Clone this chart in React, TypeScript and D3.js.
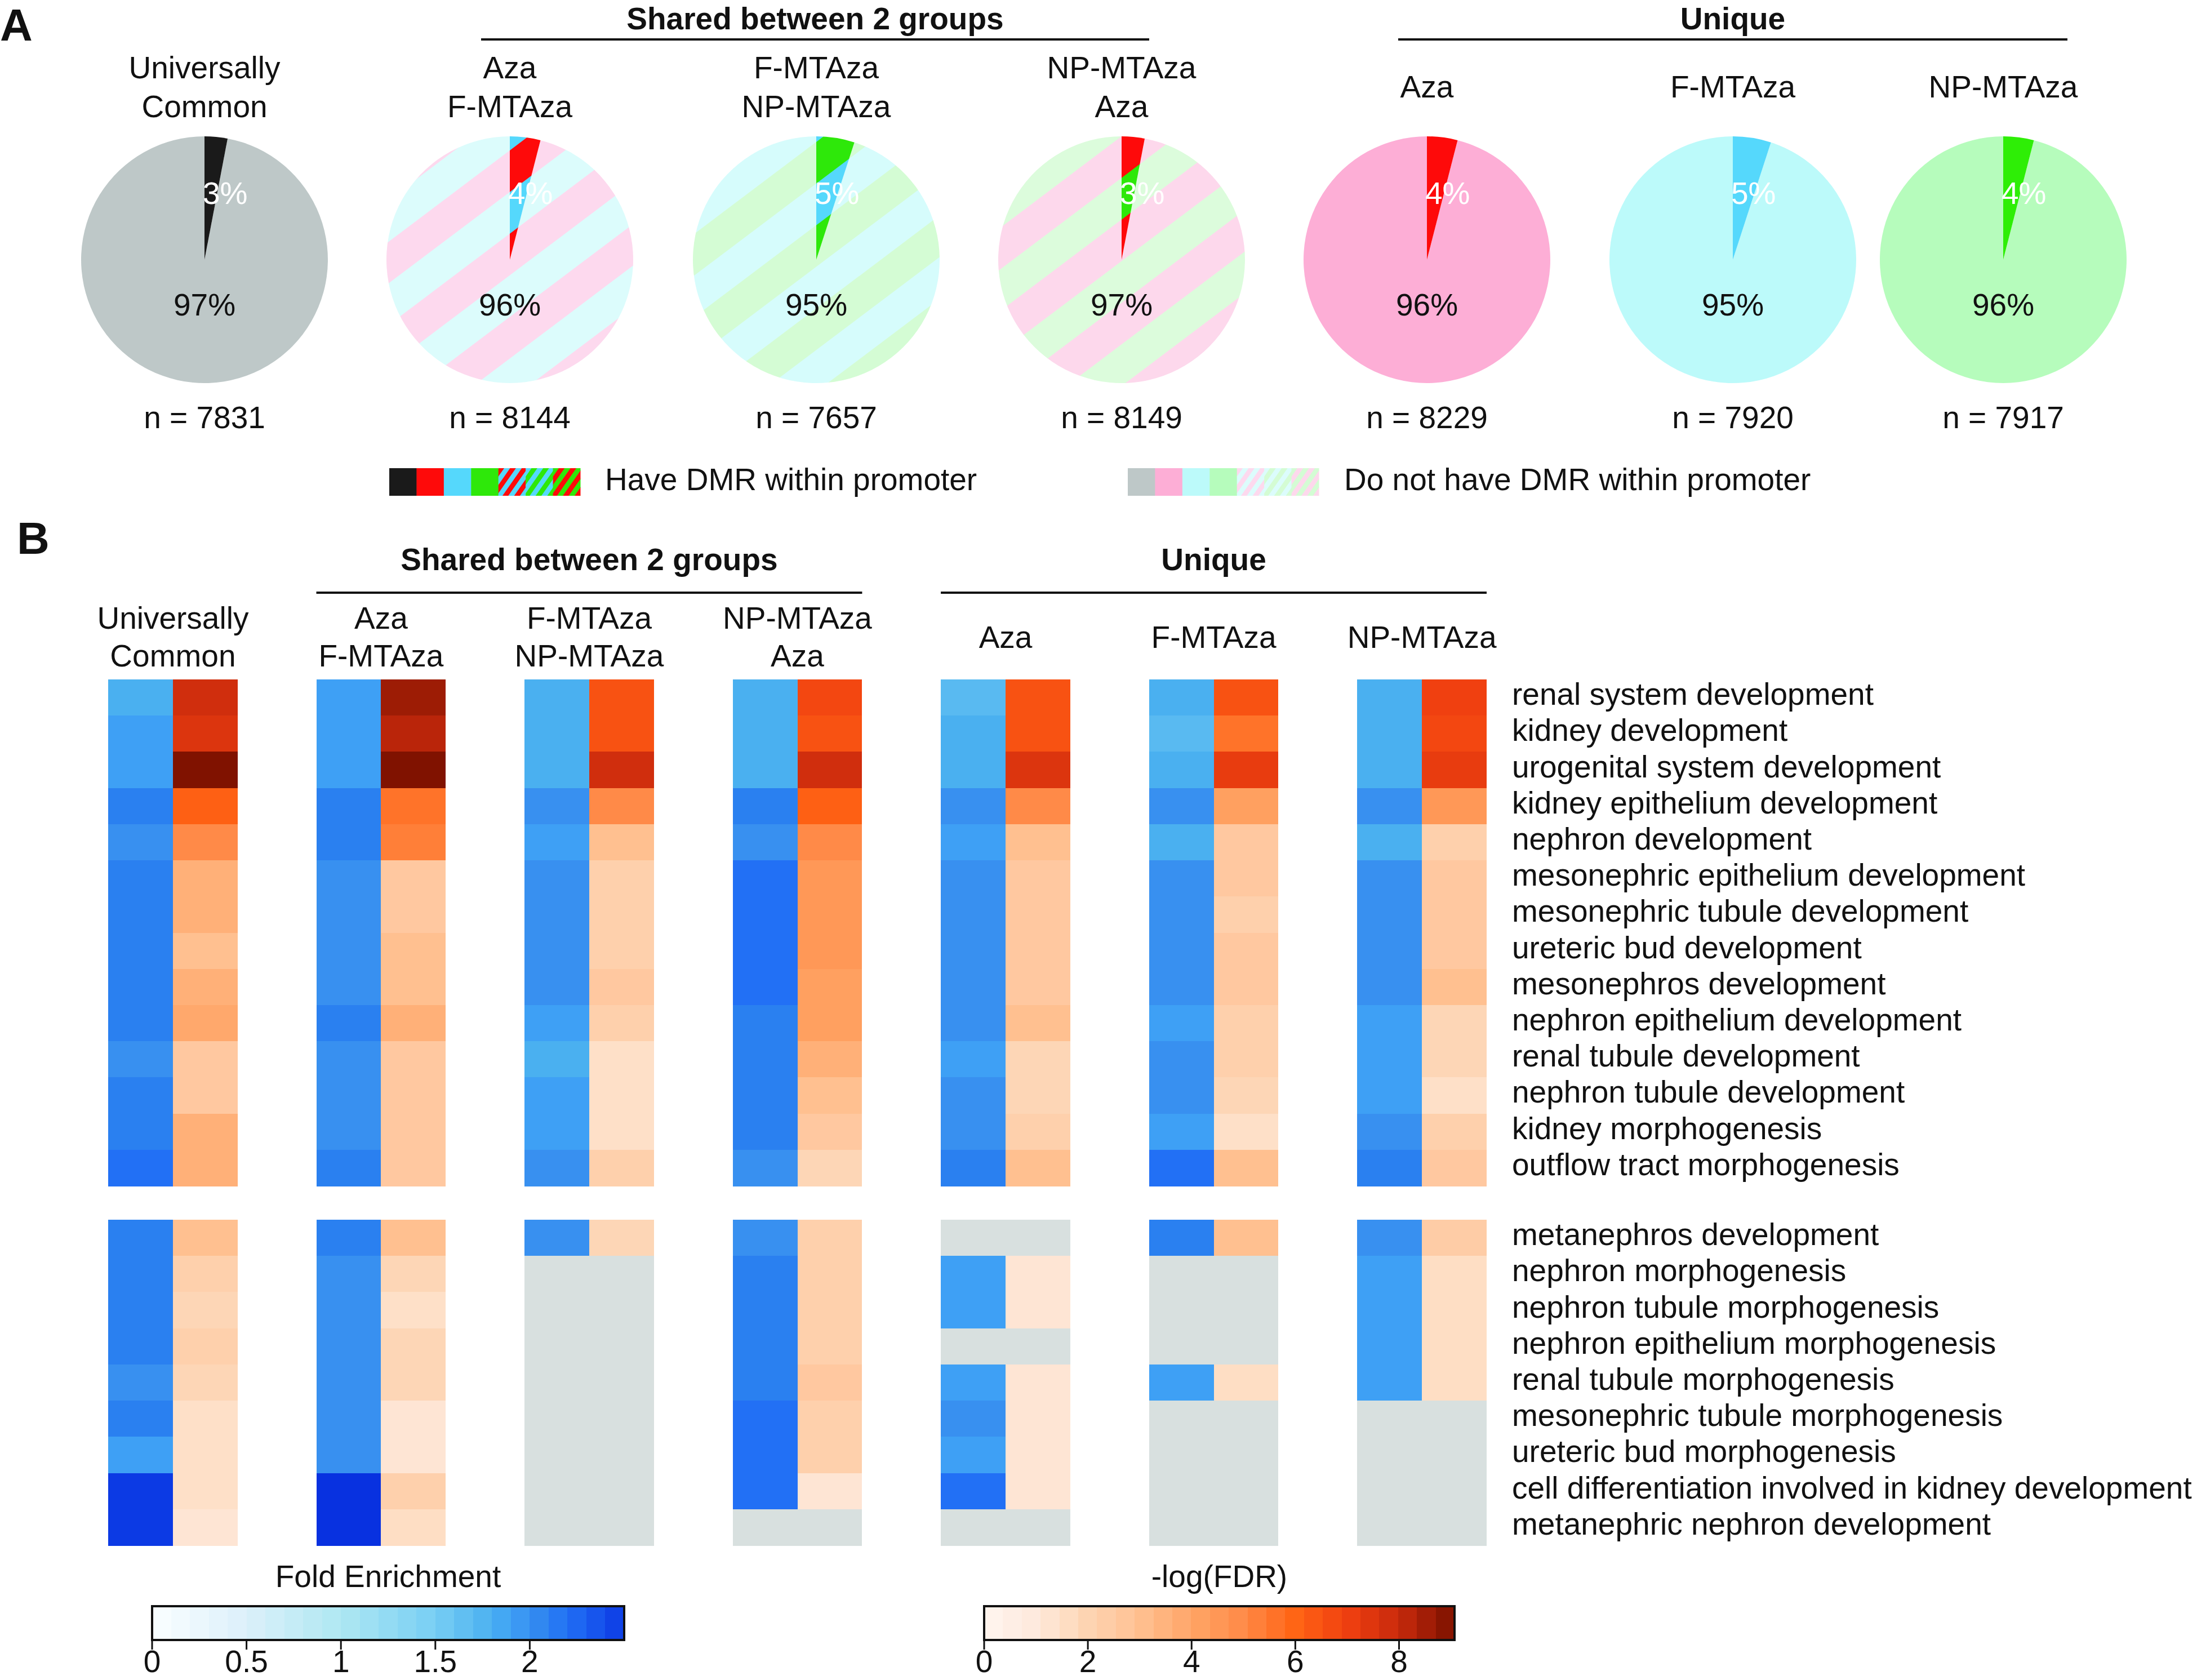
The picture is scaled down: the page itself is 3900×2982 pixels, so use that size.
import * as d3 from "d3";

const FONT = "'Liberation Sans', Arial, Helvetica, sans-serif";
const W = 3900;
const H = 2982;

// ---- panel A data ----
const PIE_LABELS = [
  ["Universally", "Common"],
  ["Aza", "F-MTAza"],
  ["F-MTAza", "NP-MTAza"],
  ["NP-MTAza", "Aza"],
  ["Aza"],
  ["F-MTAza"],
  ["NP-MTAza"],
];
const PIE_PCT = [3, 4, 5, 3, 4, 5, 4];
const PIE_N = [7831, 8144, 7657, 8149, 8229, 7920, 7917];
// colours of the "have DMR" slice (one or two for hatching)
const PIE_DARK = [
  ["#1a1a1a"],
  ["#fe0a0a", "#55d8fc"],
  ["#55d8fc", "#2ee80a"],
  ["#2ee80a", "#fe0a0a"],
  ["#fe0a0a"],
  ["#55d8fc"],
  ["#2eee06"],
];
const PIE_LIGHT = [
  ["#bec8c8"],
  ["#fdd9ee", "#dcfcfc"],
  ["#d6fcfc", "#d4fcd4"],
  ["#dcfcdc", "#fdd8ec"],
  ["#fdaed6"],
  ["#bcfafa"],
  ["#b6fcbc"],
];
const LEGEND_HAVE = [["#1a1a1a"], ["#fe0a0a"], ["#55d8fc"], ["#2ee80a"], ["#fe0a0a", "#55d8fc"], ["#55d8fc", "#2ee80a"], ["#2ee80a", "#fe0a0a"]];
const LEGEND_NOT = [["#bec8c8"], ["#fdaed6"], ["#bcfafa"], ["#b6fcbc"], ["#fdd9ee", "#dcfcfc"], ["#dcfcfc", "#d4fcd4"], ["#d4fcd4", "#fdd8ec"]];

// ---- panel B data ----
const GROUPS = ["common", "aza_f", "f_np", "np_aza", "aza", "f", "np"];
const TOP_TERMS = [
  "renal system development",
  "kidney development",
  "urogenital system development",
  "kidney epithelium development",
  "nephron development",
  "mesonephric epithelium development",
  "mesonephric tubule development",
  "ureteric bud development",
  "mesonephros development",
  "nephron epithelium development",
  "renal tubule development",
  "nephron tubule development",
  "kidney morphogenesis",
  "outflow tract morphogenesis",
];
const BOTTOM_TERMS = [
  "metanephros development",
  "nephron morphogenesis",
  "nephron tubule morphogenesis",
  "nephron epithelium morphogenesis",
  "renal tubule morphogenesis",
  "mesonephric tubule morphogenesis",
  "ureteric bud morphogenesis",
  "cell differentiation involved in kidney development",
  "metanephric nephron development",
];

const FE_TOP = [
  [1.8, 1.9, 1.9, 2.1, 2.0, 2.1, 2.1, 2.1, 2.1, 2.1, 2.0, 2.1, 2.1, 2.2],
  [1.9, 1.9, 1.9, 2.1, 2.1, 2.0, 2.0, 2.0, 2.0, 2.1, 2.0, 2.0, 2.0, 2.1],
  [1.8, 1.8, 1.8, 2.0, 1.9, 2.0, 2.0, 2.0, 2.0, 1.9, 1.8, 1.9, 1.9, 2.0],
  [1.8, 1.8, 1.8, 2.1, 2.0, 2.2, 2.2, 2.2, 2.2, 2.1, 2.1, 2.1, 2.1, 2.0],
  [1.7, 1.8, 1.8, 2.0, 1.9, 2.0, 2.0, 2.0, 2.0, 2.0, 1.9, 2.0, 2.0, 2.1],
  [1.8, 1.7, 1.8, 2.0, 1.8, 2.0, 2.0, 2.0, 2.0, 1.9, 2.0, 2.0, 1.9, 2.2],
  [1.8, 1.8, 1.8, 2.0, 1.8, 2.0, 2.0, 2.0, 2.0, 1.9, 1.9, 1.9, 2.0, 2.1],
];
const FDR_TOP = [
  [7.8, 7.5, 9.0, 6.1, 5.0, 3.6, 3.6, 3.0, 3.6, 3.9, 2.6, 2.6, 3.6, 3.6],
  [8.6, 8.2, 9.0, 5.6, 5.3, 2.6, 2.6, 3.0, 3.0, 3.6, 2.6, 2.6, 2.6, 2.6],
  [6.5, 6.5, 7.8, 5.0, 3.0, 2.2, 2.2, 2.2, 2.6, 2.2, 1.5, 1.5, 1.5, 2.2],
  [6.8, 6.5, 7.8, 6.1, 5.0, 4.5, 4.5, 4.5, 4.2, 4.2, 3.6, 3.0, 2.6, 1.9],
  [6.5, 6.5, 7.5, 5.0, 3.0, 2.6, 2.6, 2.6, 2.6, 3.0, 1.9, 1.9, 2.2, 3.0],
  [6.5, 5.6, 7.2, 4.2, 2.6, 2.6, 2.2, 2.6, 2.6, 2.2, 2.2, 1.9, 1.5, 3.0],
  [7.0, 6.8, 7.2, 4.5, 2.2, 2.6, 2.6, 2.6, 3.0, 1.9, 1.9, 1.5, 2.2, 2.6],
];
const FE_BOTTOM = [
  [2.1, 2.1, 2.1, 2.1, 2.0, 2.1, 1.9, 2.5, 2.5],
  [2.1, 2.0, 2.0, 2.0, 2.0, 2.0, 2.0, 2.6, 2.6],
  [2.0, null, null, null, null, null, null, null, null],
  [2.0, 2.1, 2.1, 2.1, 2.1, 2.2, 2.2, 2.2, null],
  [null, 1.9, 1.9, null, 1.9, 2.0, 1.9, 2.2, null],
  [2.1, null, null, null, 1.9, null, null, null, null],
  [2.0, 1.9, 1.9, 1.9, 1.9, null, null, null, null],
];
const FDR_BOTTOM = [
  [3.0, 2.2, 1.9, 2.2, 1.9, 1.5, 1.5, 1.5, 1.2],
  [3.0, 1.9, 1.5, 1.9, 1.9, 1.2, 1.2, 2.2, 1.6],
  [1.9, null, null, null, null, null, null, null, null],
  [2.2, 2.2, 2.2, 2.2, 2.6, 2.2, 2.2, 1.2, null],
  [null, 1.2, 1.2, null, 1.2, 1.2, 1.2, 1.2, null],
  [3.0, null, null, null, 1.6, null, null, null, null],
  [2.4, 1.6, 1.6, 1.6, 1.6, null, null, null, null],
];

const FE_TICKS = [0, 0.5, 1, 1.5, 2];
const FDR_TICKS = [0, 2, 4, 6, 8];

// ---- colour scales ----
const feColor = d3
  .scaleLinear<string>()
  .domain([0, 0.5, 1.0, 1.5, 1.8, 1.9, 2.0, 2.1, 2.2, 2.5, 2.7])
  .range(["#fafeff", "#dcf0fa", "#aee8f2", "#78cef4", "#4ab0f0", "#3ea0f5", "#3890f0", "#2a80f0", "#2270f5", "#0c3ae4", "#0428dc"])
  .clamp(true);
const fdrColor = d3
  .scaleLinear<string>()
  .domain([0, 1, 1.5, 2, 2.6, 3, 3.6, 4.2, 5, 6, 7, 8, 9])
  .range(["#fff5f0", "#fee9dc", "#fee0c8", "#fdd4b2", "#ffc8a0", "#ffc090", "#ffb078", "#ffa060", "#ff8a48", "#ff6414", "#f04010", "#c82a0c", "#801200"])
  .clamp(true);
const NA_COLOR = "#d8e0df";

// ---- layout ----
const PIE_CX = [363, 905, 1449, 1991, 2533, 3076, 3556];
const PIE_CY = 461;
const PIE_R = 219;
const STRIPE_ANGLE = -37;
const STRIPE_W = 59;
const PIE_PHASE = [0, -37, 10, 2, 0, 0, 0];

// two-colour diagonal stripes, drawn around (0,0) of the current frame, clipped by clipId
const Stripes = ({ clipId, colors, phase, w, angle, span }: any) => {
  const n = Math.ceil(span / (2 * w)) + 1;
  return (
    <g clipPath={`url(#${clipId})`}>
      <g transform={`rotate(${angle})`}>
        {d3.range(-n, n + 1).map((k) => (
          <g key={k}>
            <rect x={-span} y={phase + k * 2 * w} width={span * 2} height={w + 0.6} fill={colors[0]} />
            <rect x={-span} y={phase + k * 2 * w + w} width={span * 2} height={w + 0.6} fill={colors[1]} />
          </g>
        ))}
      </g>
    </g>
  );
};

const txt = { fontFamily: FONT, fontSize: 55, fill: "#111" };

function PanelA() {
  const pie = d3.pie<number>().sort(null).startAngle(0).endAngle(2 * Math.PI);
  const arc = d3.arc<d3.PieArcDatum<number>>().innerRadius(0).outerRadius(PIE_R);

  const legendX = d3.scaleBand<number>().domain(d3.range(7)).range([691, 1030]);
  const legendX2 = d3.scaleBand<number>().domain(d3.range(7)).range([2002, 2341]);
  const sw = legendX.bandwidth();

  const swatch = (c: string[], x: number, id: string) =>
    c.length > 1 ? (
      <g key={id} transform={`translate(${x},831)`}>
        <clipPath id={id}>
          <rect x={0} y={0} width={sw + 0.5} height={49} />
        </clipPath>
        <Stripes clipId={id} colors={c} phase={0} w={8.5} angle={-55} span={80} />
      </g>
    ) : (
      <rect key={id} x={x} y={831} width={sw + 0.5} height={49} fill={c[0]} />
    );

  return (
    <g>
      <text x={0} y={72} style={{ ...txt, fontSize: 80, fontWeight: "bold" }}>A</text>

      {/* group headers */}
      <text x={1447} y={52} textAnchor="middle" style={{ ...txt, fontWeight: "bold" }}>Shared between 2 groups</text>
      <line x1={854} x2={2040} y1={70} y2={70} stroke="#111" strokeWidth={4} />
      <text x={3076} y={52} textAnchor="middle" style={{ ...txt, fontWeight: "bold" }}>Unique</text>
      <line x1={2482} x2={3670} y1={70} y2={70} stroke="#111" strokeWidth={4} />

      {PIE_PCT.map((p, i) => {
        const arcs = pie([p, 100 - p]);
        const cx = PIE_CX[i];
        const hatched = PIE_DARK[i].length > 1;
        const lines = PIE_LABELS[i];
        return (
          <g key={i}>
            {lines.length === 2 ? (
              <>
                <text x={cx} y={139} textAnchor="middle" style={txt}>{lines[0]}</text>
                <text x={cx} y={208} textAnchor="middle" style={txt}>{lines[1]}</text>
              </>
            ) : (
              <text x={cx} y={173} textAnchor="middle" style={txt}>{lines[0]}</text>
            )}
            <g transform={`translate(${cx},${PIE_CY})`}>
              {hatched ? (
                <>
                  <clipPath id={`pie-${i}-1`}>
                    <path d={arc(arcs[1]) || ""} />
                  </clipPath>
                  <clipPath id={`pie-${i}-0`}>
                    <path d={arc(arcs[0]) || ""} />
                  </clipPath>
                  <Stripes clipId={`pie-${i}-1`} colors={PIE_LIGHT[i]} phase={PIE_PHASE[i]} w={STRIPE_W} angle={STRIPE_ANGLE} span={PIE_R * 1.6} />
                  <Stripes clipId={`pie-${i}-0`} colors={PIE_DARK[i]} phase={PIE_PHASE[i]} w={STRIPE_W} angle={STRIPE_ANGLE} span={PIE_R * 1.6} />
                </>
              ) : (
                <>
                  <path d={arc(arcs[1]) || ""} fill={PIE_LIGHT[i][0]} />
                  <path d={arc(arcs[0]) || ""} fill={PIE_DARK[i][0]} />
                </>
              )}
            </g>
            <text x={cx - 3} y={362} style={{ ...txt, fill: "#fff" }}>{`${p}%`}</text>
            <text x={cx} y={560} textAnchor="middle" style={txt}>{`${100 - p}%`}</text>
            <text x={cx} y={760} textAnchor="middle" style={txt}>{`n = ${PIE_N[i]}`}</text>
          </g>
        );
      })}

      {/* legend */}
      {LEGEND_HAVE.map((c, i) => swatch(c, legendX(i)!, `lh-${i}`))}
      <text x={1074} y={870} style={txt}>Have DMR within promoter</text>
      {LEGEND_NOT.map((c, i) => swatch(c, legendX2(i)!, `ln-${i}`))}
      <text x={2386} y={870} style={txt}>Do not have DMR within promoter</text>
    </g>
  );
}

function PanelB() {
  const groupX = d3.scaleBand<string>().domain(GROUPS).range([192, 2639]).paddingInner(0.378);
  const bw = groupX.bandwidth() / 2;
  const rowTop = d3.scaleBand<string>().domain(TOP_TERMS).range([1206, 2105]);
  const rowBottom = d3.scaleBand<string>().domain(BOTTOM_TERMS).range([2165, 2743]);

  const feX = d3.scaleLinear().domain([0, 2.5]).range([270, 1108]);
  const fdrX = d3.scaleLinear().domain([0, 9.07]).range([1747, 2582]);
  const feSteps = d3.range(25).map((i) => (i * 2.5) / 25);
  const fdrSteps = d3.range(25).map((i) => (i * 9.07) / 25);

  const block = (terms: string[], rows: d3.ScaleBand<string>, fe: (number | null)[][], fdr: (number | null)[][]) =>
    GROUPS.map((g, gi) =>
      terms.map((t, ri) => {
        const x = groupX(g)!;
        const y = rows(t)!;
        const h = rows.bandwidth();
        const f = fe[gi][ri];
        const q = fdr[gi][ri];
        return (
          <g key={`${g}-${t}`} shapeRendering="crispEdges">
            <rect x={x} y={y} width={bw + 0.6} height={h + 0.6} fill={f == null ? NA_COLOR : feColor(f)} />
            <rect x={x + bw} y={y} width={bw} height={h + 0.6} fill={q == null ? NA_COLOR : fdrColor(q)} />
          </g>
        );
      })
    );

  const colCenter = (i: number) => groupX(GROUPS[i])! + groupX.bandwidth() / 2;

  return (
    <g>
      <text x={30} y={983} style={{ ...txt, fontSize: 80, fontWeight: "bold" }}>B</text>
      <text x={(groupX(GROUPS[1])! + groupX(GROUPS[3])! + groupX.bandwidth()) / 2} y={1012} textAnchor="middle" style={{ ...txt, fontWeight: "bold" }}>
        Shared between 2 groups
      </text>
      <line x1={groupX(GROUPS[1])!} x2={groupX(GROUPS[3])! + groupX.bandwidth()} y1={1052} y2={1052} stroke="#111" strokeWidth={4} />
      <text x={(groupX(GROUPS[4])! + groupX(GROUPS[6])! + groupX.bandwidth()) / 2} y={1012} textAnchor="middle" style={{ ...txt, fontWeight: "bold" }}>
        Unique
      </text>
      <line x1={groupX(GROUPS[4])!} x2={groupX(GROUPS[6])! + groupX.bandwidth()} y1={1052} y2={1052} stroke="#111" strokeWidth={4} />

      {PIE_LABELS.map((lines, i) =>
        lines.length === 2 ? (
          <g key={i}>
            <text x={colCenter(i)} y={1116} textAnchor="middle" style={txt}>{lines[0]}</text>
            <text x={colCenter(i)} y={1183} textAnchor="middle" style={txt}>{lines[1]}</text>
          </g>
        ) : (
          <text key={i} x={colCenter(i)} y={1150} textAnchor="middle" style={txt}>{lines[0]}</text>
        )
      )}

      {block(TOP_TERMS, rowTop, FE_TOP, FDR_TOP)}
      {block(BOTTOM_TERMS, rowBottom, FE_BOTTOM, FDR_BOTTOM)}

      {TOP_TERMS.map((t) => (
        <text key={t} x={2684} y={rowTop(t)! + rowTop.bandwidth() / 2 + 13} style={txt}>{t}</text>
      ))}
      {BOTTOM_TERMS.map((t) => (
        <text key={t} x={2684} y={rowBottom(t)! + rowBottom.bandwidth() / 2 + 13} style={txt}>{t}</text>
      ))}

      {/* Fold enrichment colour bar */}
      <text x={(feX(0) + feX(2.5)) / 2} y={2817} textAnchor="middle" style={txt}>Fold Enrichment</text>
      {feSteps.map((v) => (
        <rect key={v} x={feX(v)} y={2851} width={feX(0.1) - feX(0) + 0.5} height={60} fill={feColor(v + 0.05)} shapeRendering="crispEdges" />
      ))}
      <rect x={feX(0)} y={2851} width={feX(2.5) - feX(0)} height={60} fill="none" stroke="#111" strokeWidth={4} />
      {FE_TICKS.map((t) => (
        <g key={t} transform={`translate(${feX(t)},0)`}>
          <line y1={2911} y2={2928} stroke="#111" strokeWidth={3} />
          <text y={2968} textAnchor="middle" style={txt}>{String(t)}</text>
        </g>
      ))}

      {/* -log(FDR) colour bar */}
      <text x={(fdrX(0) + fdrX(9.07)) / 2} y={2817} textAnchor="middle" style={txt}>-log(FDR)</text>
      {fdrSteps.map((v) => (
        <rect key={v} x={fdrX(v)} y={2851} width={fdrX(9.07 / 25) - fdrX(0) + 0.5} height={60} fill={fdrColor(v + 9.07 / 50)} shapeRendering="crispEdges" />
      ))}
      <rect x={fdrX(0)} y={2851} width={fdrX(9.07) - fdrX(0)} height={60} fill="none" stroke="#111" strokeWidth={4} />
      {FDR_TICKS.map((t) => (
        <g key={t} transform={`translate(${fdrX(t)},0)`}>
          <line y1={2911} y2={2928} stroke="#111" strokeWidth={3} />
          <text y={2968} textAnchor="middle" style={txt}>{String(t)}</text>
        </g>
      ))}
    </g>
  );
}

export default function App() {
  return (
    <>
      <style>{"body{margin:0}"}</style>
      <svg width={W} height={H} style={{ display: "block", background: "#fff" }}>
        <PanelA />
        <PanelB />
      </svg>
    </>
  );
}
